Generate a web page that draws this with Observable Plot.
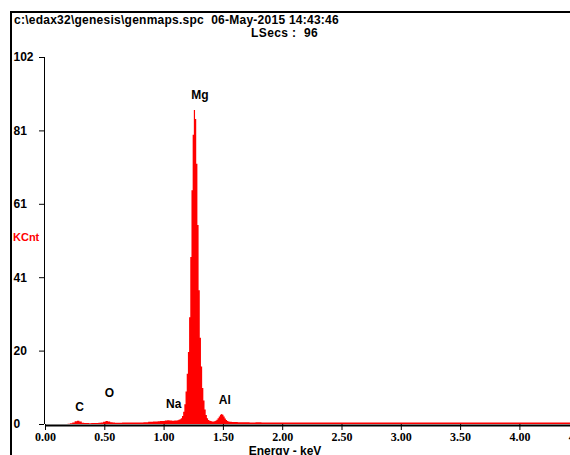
<!DOCTYPE html>
<html>
<head>
<meta charset="utf-8">
<script src="https://cdn.jsdelivr.net/npm/d3@7"></script>
<script src="https://cdn.jsdelivr.net/npm/@observablehq/plot@0.6"></script>
<style>
  html, body { margin: 0; padding: 0; background: #fff; overflow: hidden; }
  #wrap { position: relative; width: 570px; height: 455px; overflow: hidden; background: #fff;
          font-family: "Liberation Sans", Arial, sans-serif; font-weight: bold; font-size: 11px; color: #000; }
  #frame { position: absolute; left: 10px; top: 11px; width: 700px; height: 600px;
           border-left: 2px solid #000; border-top: 2px solid #000; }
  .t { position: absolute; white-space: pre; line-height: 12px; }
  #chart { position: absolute; left: 0; top: 0; width: 640px; height: 455px; }
  #chart svg { max-width: none !important; width: 640px; height: 455px; }
</style>
</head>
<body>
<div id="wrap">
  <div id="frame"></div>
  <div id="chart"></div>
  <div class="t" id="title" style="left:14px; top:14px; font-size:12px; letter-spacing:0.25px;"></div>
  <div class="t" id="lsecs" style="left:251px; top:27px; font-size:12px; letter-spacing:0.4px;"></div>
  <div class="t" id="ylab" style="left:13px; top:231px; color:#ff0000;"></div>
  <div class="t" id="xlab" style="left:0; width:570px; text-align:center; top:445px; font-size:12px;"></div>
</div>
<script>
// ---- text ----
const titleText = "c:\\edax32\\genesis\\genmaps.spc  06-May-2015 14:43:46";
const lsecsText = "LSecs :  96";
const yAxisLabel = "KCnt";
const xAxisLabel = "Energy - keV";

// ---- ticks ----
const xTicks = [0, 0.5, 1, 1.5, 2, 2.5, 3, 3.5, 4, 4.5, 5];
const yTickValues = [0, 20.4, 40.8, 61.2, 81.6, 102];
const yTickLabels = ["0", "20", "41", "61", "81", "102"];

// ---- element markers ----
const elementNames = ["C", "O", "Na", "Mg", "Al"];
const elementEnergy = [0.277, 0.525, 1.041, 1.254, 1.486];
const elementLabelHeight = [4.7, 8.6, 5.6, 91.4, 6.7];

// ---- spectrum (energy keV, counts KCnt) ----
const energy = [
  0.00,0.02,0.04,0.06,0.08,0.10,0.12,0.14,0.16,0.18,0.20,0.22,0.24,0.26,0.28,0.30,0.32,0.34,0.36,0.38,
  0.40,0.42,0.44,0.46,0.48,0.50,0.52,0.54,0.56,0.58,0.60,0.62,0.64,0.66,0.68,0.70,0.72,0.74,0.76,0.78,
  0.80,0.82,0.84,0.86,0.88,0.90,0.92,0.94,0.96,0.98,1.00,1.02,1.04,1.06,1.08,
  1.10,1.11,1.12,1.13,1.14,1.15,1.16,1.17,1.18,1.19,1.20,1.21,1.22,1.23,1.24,1.25,1.26,1.27,1.28,1.29,
  1.30,1.31,1.32,1.33,1.34,1.35,1.36,1.37,1.38,1.39,1.40,1.41,1.42,1.43,1.44,1.45,1.46,1.47,1.48,1.49,
  1.50,1.51,1.52,1.53,1.54,1.55,1.56,1.57,1.58,1.59,
  1.60,1.65,1.70,1.75,1.80,1.85,1.90,1.95,2.00,2.05,2.10,2.15,2.20,2.25,2.30,2.35,2.40,2.45,2.50,2.55,
  2.60,2.65,2.70,2.75,2.80,2.85,2.90,2.95,3.00,3.05,3.10,3.15,3.20,3.25,3.30,3.35,3.40,3.45,3.50,3.55,
  3.60,3.65,3.70,3.75,3.80,3.85,3.90,3.95,4.00,4.05,4.10,4.15,4.20,4.25,4.30,4.35,4.40,4.45,4.50,4.55,
  4.60,4.65,4.70,4.75,4.80,4.85,4.90,4.95,5.00
];
const kcnt = [
  0,0,0,0,0,0,0,0,0,0,0.05,0.2,0.45,0.75,0.9,0.7,0.35,0.25,0.25,0.2,
  0.25,0.3,0.3,0.35,0.45,0.65,0.8,0.7,0.5,0.4,0.35,0.35,0.35,0.4,0.4,0.4,0.4,0.4,0.45,0.4,
  0.45,0.45,0.5,0.5,0.6,0.65,0.7,0.7,0.75,0.8,0.85,0.95,1.05,0.95,0.9,
  0.95,1.0,1.05,1.15,1.3,1.6,2.2,3.4,5.5,9,14,20,29.7,46.4,65,80.4,87.3,84.8,72.3,55.3,
  37.2,24,16,10,6.5,4,2.5,1.6,1.1,0.9,0.8,0.7,0.7,0.75,0.9,1.2,1.6,2.1,2.6,2.8,
  2.6,2.1,1.5,1.1,0.8,0.7,0.6,0.6,0.55,0.55,
  0.55,0.5,0.5,0.45,0.5,0.45,0.45,0.45,0.45,0.45,0.4,0.45,0.4,0.4,0.45,0.4,0.4,0.4,0.4,0.4,
  0.4,0.4,0.4,0.4,0.4,0.4,0.4,0.4,0.4,0.4,0.4,0.4,0.4,0.4,0.4,0.4,0.4,0.4,0.4,0.4,
  0.4,0.4,0.4,0.4,0.4,0.4,0.4,0.4,0.4,0.4,0.4,0.4,0.4,0.4,0.4,0.4,0.4,0.4,0.4,0.4,
  0.4,0.4,0.4,0.4,0.4,0.4,0.4,0.4,0.4
];

const spectrum = energy.map((e, i) => ({e, c: kcnt[i]}));
const elements = elementNames.map((n, i) => ({n, e: elementEnergy[i], h: elementLabelHeight[i]}));

document.getElementById("title").textContent = titleText;
document.getElementById("lsecs").textContent = lsecsText;
document.getElementById("ylab").textContent = yAxisLabel;
document.getElementById("xlab").textContent = xAxisLabel;

const chart = Plot.plot({
  width: 640,
  height: 455,
  marginLeft: 45,
  marginRight: 2,
  marginTop: 57,
  marginBottom: 31,
  x: {domain: [0, 5]},
  y: {domain: [0, 102]},
  style: {fontFamily: "Liberation Sans, Arial, sans-serif", fontWeight: "bold", fontSize: "11px",
          background: "transparent", color: "#000"},
  marks: [
    Plot.areaY(spectrum, {x: "e", y: "c", fill: "#ff0000", curve: "step"}),
    Plot.ruleY([0], {stroke: "#000", strokeWidth: 2, dy: 1}),
    Plot.ruleX([0], {y1: 0, y2: 102, stroke: "#000", dx: -1}),
    Plot.axisY({ticks: yTickValues, tickSize: 5, tickFormat: () => "", label: null, stroke: "#000", dx: -1}),
    Plot.text(yTickValues, {y: d => d, text: (d, i) => yTickLabels[i], frameAnchor: "left",
                            dx: -32, textAnchor: "start", fill: "#000", fontSize: 12}),
    Plot.axisX({ticks: xTicks, tickFormat: d => d.toFixed(2), tickSize: 6, tickPadding: 2,
                label: null, fontFamily: "Liberation Serif, Times New Roman, serif",
                fontSize: 12, fontWeight: "bold", fill: "#000", stroke: "#000"}),
    Plot.text(elements, {x: "e", y: "h", text: "n", textAnchor: "start", dx: -3, fill: "#000", fontSize: 12})
  ]
});
document.getElementById("chart").appendChild(chart);
</script>
</body>
</html>
